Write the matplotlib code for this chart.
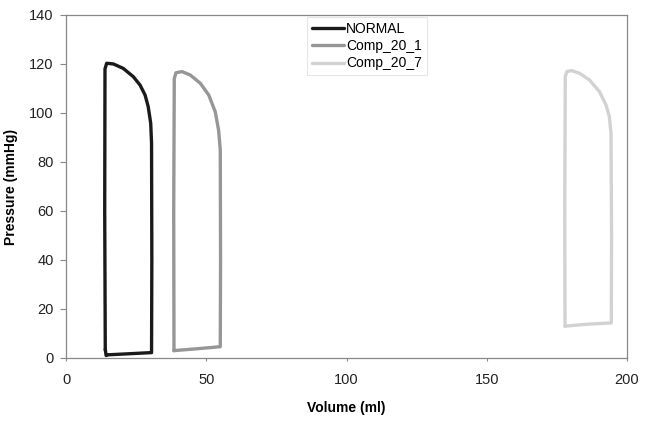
import matplotlib.pyplot as plt

plt.rcParams['font.family'] = ['Liberation Sans', 'DejaVu Sans']

# pressure-volume loops
normal_vol = [14.0, 13.8, 13.9, 14.5, 16.9, 20.4, 24.0, 26.4, 28.2, 29.3, 30.2, 30.5, 30.6, 30.5, 22.0, 15.0, 14.3, 14.0]
normal_p = [3.5, 60.0, 118.0, 120.3, 120.0, 118.2, 114.8, 111.4, 107.3, 102.6, 95.8, 87.6, 40.0, 2.2, 1.7, 1.3, 1.0, 3.5]

comp1_vol = [38.5, 38.4, 38.6, 39.2, 41.3, 44.3, 47.9, 50.9, 53.2, 54.4, 55.0, 55.1, 55.0, 47.0, 38.5]
comp1_p = [3.0, 60.0, 114.0, 116.4, 116.9, 115.5, 112.1, 107.3, 100.5, 93.0, 84.9, 40.0, 4.6, 3.8, 3.0]

comp7_vol = [177.9, 177.8, 178.0, 178.6, 180.2, 183.1, 186.6, 190.2, 192.5, 193.7, 194.3, 194.5, 194.4, 186.0, 177.9]
comp7_p = [13.0, 60.0, 115.0, 116.9, 117.3, 116.2, 113.5, 108.7, 103.3, 98.6, 91.7, 50.0, 14.3, 13.8, 13.0]

labels = ['NORMAL', 'Comp_20_1', 'Comp_20_7']
colors = ['#1a1a1a', '#969696', '#d2d2d2']

fig = plt.figure(figsize=(6.49, 4.23), dpi=100)
ax = fig.add_axes([0.1017, 0.1537, 0.8644, 0.8109])

for v, p, lab, c in zip([normal_vol, comp1_vol, comp7_vol],
                        [normal_p, comp1_p, comp7_p], labels, colors):
    ax.plot(v, p, color=c, linewidth=2.4, label=lab,
            solid_joinstyle='round', solid_capstyle='round')

ax.set_xlim(0, 200)
ax.set_ylim(0, 140)
ax.set_xticks(range(0, 201, 50))
ax.set_yticks(range(0, 141, 20))
ax.set_xlabel('Volume (ml)', fontsize=10, fontweight='bold', labelpad=10)
ax.set_ylabel('Pressure (mmHg)', fontsize=10, fontweight='bold', labelpad=8)
ax.tick_params(axis='both', labelsize=10.5, direction='out', length=4,
               color='#888888', labelcolor='#222222', pad=5)
ax.tick_params(axis='x', length=2, pad=9)
for s in ax.spines.values():
    s.set_color('#888888')
    s.set_linewidth(0.9)

leg = ax.legend(loc='upper left', bbox_to_anchor=(0.43, 0.995), fontsize=10,
                frameon=True, fancybox=False, handlelength=2.3, handletextpad=0.15,
                labelspacing=0.25, borderpad=0.35, borderaxespad=0)
leg.get_frame().set_edgecolor('#e0e0e0')
leg.get_frame().set_linewidth(0.8)

plt.savefig('out.png', dpi=100)
